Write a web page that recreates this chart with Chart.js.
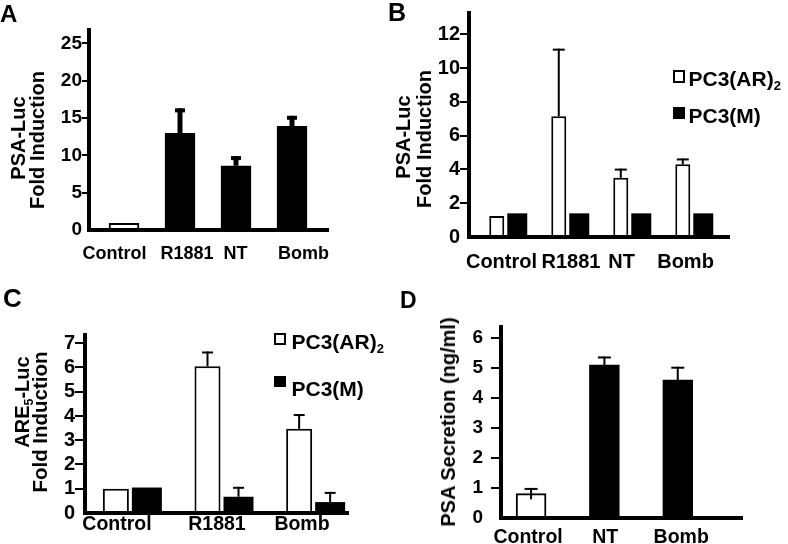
<!DOCTYPE html>
<html>
<head>
<meta charset="utf-8">
<title>PSA-Luc / ARE-Luc induction and PSA secretion</title>
<script src="https://cdn.jsdelivr.net/npm/chart.js@4.4.1/dist/chart.umd.min.js"></script>
<style>
  body { margin: 0; background: #fff; }
  #fig { position: relative; width: 788px; height: 544px; overflow: hidden; background: #fff;
         font-family: 'Liberation Sans', Arial, Helvetica, sans-serif; font-weight: bold; color: #000; }
  #fig canvas { position: absolute; }
  .letter { position: absolute; line-height: 1; }
  .ytitle { position: absolute; line-height: 1; white-space: nowrap; font-size: 20px;
            transform: translate(-50%, -50%) rotate(-90deg); }
  .legend-text { position: absolute; line-height: 1; font-size: 21px; white-space: nowrap; }
  .swatch { position: absolute; box-sizing: border-box; border: 2px solid #000; }
  sub { font-size: 0.62em; vertical-align: -0.3em; line-height: 0; }
</style>
</head>
<body>
<div id="fig">
  <canvas id="chartA" width="394" height="272" style="left:0;top:0"></canvas>
  <canvas id="chartB" width="394" height="272" style="left:394px;top:0"></canvas>
  <canvas id="chartC" width="394" height="272" style="left:0;top:272px"></canvas>
  <canvas id="chartD" width="394" height="272" style="left:394px;top:272px"></canvas>

  <div class="letter" style="left:0;top:2px;font-size:24px">A</div>
  <div class="letter" style="left:388px;top:0;font-size:25px">B</div>
  <div class="letter" style="left:3px;top:285px;font-size:26px">C</div>
  <div class="letter" style="left:400px;top:289px;font-size:23px">D</div>

  <div class="ytitle" style="left:17.5px;top:137.5px">PSA-Luc</div>
  <div class="ytitle" style="left:36.5px;top:140px">Fold Induction</div>
  <div class="ytitle" style="left:402.5px;top:136.5px">PSA-Luc</div>
  <div class="ytitle" style="left:424px;top:139px">Fold Induction</div>
  <div class="ytitle" style="left:21.5px;top:401.5px">ARE<sub>5</sub>-Luc</div>
  <div class="ytitle" style="left:40px;top:422px;font-size:20.5px">Fold Induction</div>
  <div class="ytitle" style="left:447.5px;top:422px">PSA Secretion (ng/ml)</div>

  <div class="swatch" style="left:673px;top:70px;width:12px;height:13px;background:#fff"></div>
  <div class="legend-text" style="left:688.5px;top:67.5px">PC3(AR)<sub>2</sub></div>
  <div class="swatch" style="left:673px;top:107px;width:12px;height:12px;background:#000"></div>
  <div class="legend-text" style="left:688.5px;top:104.5px">PC3(M)</div>

  <div class="swatch" style="left:274px;top:333px;width:12px;height:12px;background:#fff"></div>
  <div class="legend-text" style="left:291.5px;top:330.5px">PC3(AR)<sub>2</sub></div>
  <div class="swatch" style="left:274px;top:376px;width:12px;height:11px;background:#000"></div>
  <div class="legend-text" style="left:291.5px;top:377.5px">PC3(M)</div>
</div>

<script>
// A: PSA-Luc fold induction
const catsA = ['Control', 'R1881', 'NT', 'Bomb'];
const foldA = [0.9, 12.95, 8.6, 13.9];
const errA = [0, 3.35, 1.3, 1.4];
const colorsA = ['#fff', '#000', '#000', '#000'];
const yTicksA = [0, 5, 10, 15, 20, 25];

// B: PSA-Luc, PC3(AR)2 vs PC3(M)
const catsB = ['Control', 'R1881', 'NT', 'Bomb'];
const ar2B = [1.25, 7.15, 3.5, 4.3];
const ar2ErrB = [0, 4.0, 0.55, 0.35];
const mB = [1.4, 1.4, 1.4, 1.4];
const yTicksB = [0, 2, 4, 6, 8, 10, 12];

// C: ARE5-Luc, PC3(AR)2 vs PC3(M)
const catsC = ['Control', 'R1881', 'Bomb'];
const ar2C = [1.0, 6.05, 3.47];
const ar2ErrC = [0, 0.61, 0.61];
const mC = [1.05, 0.67, 0.45];
const mErrC = [0, 0.41, 0.42];
const yTicksC = [0, 1, 2, 3, 4, 5, 6, 7];

// D: PSA secretion (ng/ml)
const catsD = ['Control', 'NT', 'Bomb'];
const psaD = [0.81, 5.09, 4.59];
const errD = [0.19, 0.28, 0.44];
const colorsD = ['#fff', '#000', '#000'];
const yTicksD = [0, 1, 2, 3, 4, 5, 6];

Chart.defaults.font.family = "'Liberation Sans', Arial, Helvetica, sans-serif";
Chart.defaults.font.weight = 'bold';
Chart.defaults.color = '#000';

// upper error bars (optionally both ways) drawn on top of each bar
const errorBarPlugin = {
    id: 'errorBars',
    afterDatasetsDraw(chart, args, opts) {
        const ctx = chart.ctx;
        const yScale = chart.scales.y;
        chart.data.datasets.forEach((ds, di) => {
            if (!ds.errors) return;
            const meta = chart.getDatasetMeta(di);
            meta.data.forEach((bar, i) => {
                const err = ds.errors[i];
                if (!err) return;
                const v = ds.data[i];
                const top = yScale.getPixelForValue(v + err);
                const bottom = opts.both ? yScale.getPixelForValue(v - err) : bar.y;
                ctx.save();
                ctx.strokeStyle = '#000';
                ctx.lineWidth = opts.lineWidth;
                ctx.beginPath();
                ctx.moveTo(bar.x, bottom);
                ctx.lineTo(bar.x, top);
                ctx.stroke();
                ctx.lineWidth = opts.capThickness;
                ctx.beginPath();
                ctx.moveTo(bar.x - opts.capWidth / 2, top + opts.capThickness / 2);
                ctx.lineTo(bar.x + opts.capWidth / 2, top + opts.capThickness / 2);
                ctx.stroke();
                ctx.restore();
            });
        });
    }
};
Chart.register(errorBarPlugin);

function panelChart(canvasId, cfg) {
    const canvas = document.getElementById(canvasId);
    const W = canvas.width, H = canvas.height;

    return new Chart(canvas, {
        type: 'bar',
        data: {
            labels: cfg.cats.map((c, i) => i + 1),
            datasets: cfg.datasets
        },
        options: {
            responsive: false,
            animation: false,
            events: [],
            layout: {
                padding: { top: cfg.area.top, right: W - cfg.area.right, left: 0, bottom: 0 }
            },
            plugins: {
                legend: { display: false },
                tooltip: { enabled: false },
                errorBars: cfg.err
            },
            scales: {
                // bar axis: one unit per category, labels hidden
                x: {
                    type: 'linear',
                    bounds: 'data',
                    offset: false,
                    min: cfg.xMin,
                    max: cfg.xMax,
                    grid: { display: false, drawTicks: false },
                    border: { display: true, width: 4, color: '#000', z: 1 },
                    ticks: { display: false },
                    afterBuildTicks: s => { s.ticks = cfg.cats.map((c, i) => ({ value: i + 1 })); },
                    afterFit: s => { s.height = 0; }
                },
                // category names, spaced as in the figure
                xl: {
                    type: 'linear',
                    position: 'bottom',
                    bounds: 'data',
                    offset: false,
                    min: cfg.xMin,
                    max: cfg.xMax,
                    grid: { display: false, drawTicks: false },
                    border: { display: false },
                    ticks: {
                        font: { size: cfg.xFont },
                        padding: cfg.xPad,
                        autoSkip: false,
                        maxRotation: 0,
                        callback: (v, i) => cfg.cats[i]
                    },
                    afterBuildTicks: s => { s.ticks = cfg.labelAt.map(v => ({ value: v })); },
                    afterFit: s => { s.height = H - cfg.area.bottom; }
                },
                y: {
                    bounds: 'data',
                    min: 0,
                    max: cfg.yMax,
                    grid: {
                        drawOnChartArea: false,
                        tickLength: cfg.tickLen,
                        lineWidth: 2,
                        color: '#000',
                        tickColor: c => (c.tick && c.tick.value === 0) ? 'rgba(0,0,0,0)' : '#000'
                    },
                    border: { display: true, width: 4, color: '#000', z: 1 },
                    ticks: { font: { size: cfg.yFont }, padding: cfg.yPad, autoSkip: false },
                    afterBuildTicks: s => { s.ticks = cfg.yTicks.map(v => ({ value: v })); },
                    afterFit: s => { s.width = cfg.area.left; }
                }
            }
        }
    });
}

// A
panelChart('chartA', {
    cats: catsA,
    area: { left: 89, top: 30, right: 328, bottom: 230 },
    xMin: 0.375, xMax: 4.643,
    labelAt: [0.83, 2.125, 2.993, 4.205],
    yMax: 26.8, yTicks: yTicksA,
    xFont: 18, xPad: 13, yFont: 19, yPad: 0, tickLen: 7,
    err: { lineWidth: 5, capWidth: 10, capThickness: 4 },
    datasets: [{
        data: foldA,
        errors: errA,
        backgroundColor: colorsA,
        borderColor: '#000',
        borderWidth: 2,
        barThickness: 30
    }]
});

// B
panelChart('chartB', {
    cats: catsB,
    area: { left: 75, top: 13, right: 335, bottom: 237 },
    xMin: 0.387, xMax: 4.58,
    labelAt: [0.911, 2.032, 2.847, 3.879],
    yMax: 13.26, yTicks: yTicksB,
    xFont: 20, xPad: 13.5, yFont: 20, yPad: 0, tickLen: 9,
    err: { lineWidth: 2, capWidth: 12, capThickness: 2 },
    datasets: [{
        label: 'PC3(AR)₂',
        data: ar2B,
        errors: ar2ErrB,
        backgroundColor: '#fff',
        borderColor: '#000',
        borderWidth: 2,
        categoryPercentage: 0.661,
        barPercentage: 1,
        maxBarThickness: 15
    }, {
        label: 'PC3(M)',
        data: mB,
        backgroundColor: '#000',
        borderColor: '#000',
        borderWidth: 0,
        categoryPercentage: 0.661,
        barPercentage: 1,
        maxBarThickness: 20
    }]
});

// C
panelChart('chartC', {
    cats: catsC,
    area: { left: 85, top: 63, right: 348, bottom: 241 },
    xMin: 0.494, xMax: 3.364,
    labelAt: [0.843, 1.934, 2.862],
    yMax: 7.34, yTicks: yTicksC,
    xFont: 19.5, xPad: 0, yFont: 20, yPad: 0, tickLen: 10,
    err: { lineWidth: 2, capWidth: 11, capThickness: 2 },
    datasets: [{
        label: 'PC3(AR)₂',
        data: ar2C,
        errors: ar2ErrC,
        backgroundColor: '#fff',
        borderColor: '#000',
        borderWidth: 2,
        categoryPercentage: 0.6765,
        barPercentage: 1,
        maxBarThickness: 26
    }, {
        label: 'PC3(M)',
        data: mC,
        errors: mErrC,
        backgroundColor: '#000',
        borderColor: '#000',
        borderWidth: 0,
        categoryPercentage: 0.6765,
        barPercentage: 1,
        maxBarThickness: 30
    }]
});

// D
panelChart('chartD', {
    cats: catsD,
    area: { left: 107, top: 55, right: 348, bottom: 246 },
    xMin: 0.59, xMax: 3.876,
    labelAt: [0.959, 2.010, 3.047],
    yMax: 6.35, yTicks: yTicksD,
    xFont: 19.5, xPad: 8, yFont: 19, yPad: 8, tickLen: 10,
    err: { lineWidth: 2, capWidth: 13, capThickness: 2, both: true },
    datasets: [{
        data: psaD,
        errors: errD,
        backgroundColor: colorsD,
        borderColor: '#000',
        borderWidth: 2,
        barThickness: 30
    }]
});
</script>
</body>
</html>
